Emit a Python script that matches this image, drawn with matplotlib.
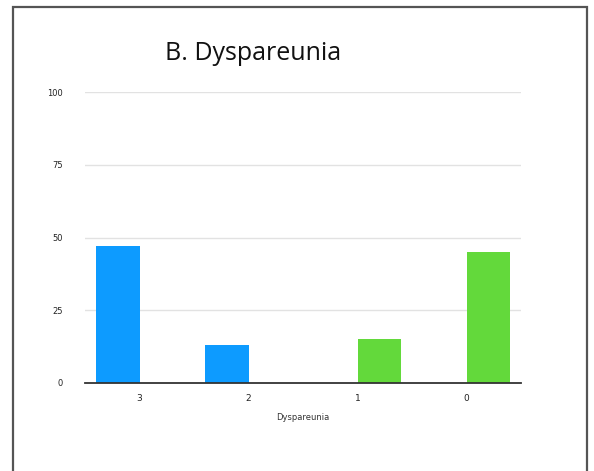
import numpy as np
import matplotlib.pyplot as plt
from matplotlib.patches import Rectangle

# Data
categories = ["3", "2", "1", "0"]
blue_vals = [47, 13, 0, 0]
green_vals = [0, 0, 15, 45]
yticks = [0, 25, 50, 75, 100]

fig = plt.figure(figsize=(5.94, 4.71), dpi=100)
W, H = 594, 471

# outer frame (open at the bottom)
fig.patches.append(Rectangle((13 / W, -0.05), 574 / W, (H - 7) / H + 0.05,
                             transform=fig.transFigure, fill=False,
                             edgecolor="#555555", linewidth=1.6))

ax = fig.add_axes([85 / W, 1 - 383 / H, 436 / W, 291 / H])
x = np.arange(len(categories))
ax.bar(x - 0.2, blue_vals, width=0.4, color="#0d9bff", zorder=3)
ax.bar(x + 0.2, green_vals, width=0.4, color="#63d93b", zorder=3)

ax.set_xlim(-0.5, 3.5)
ax.set_ylim(0, 100)
ax.set_yticks(yticks)
ax.set_yticklabels([str(v) for v in yticks], fontsize=6, color="#222222")
ax.set_xticks(x)
ax.set_xticklabels(categories, fontsize=6.5, color="#222222")
ax.tick_params(length=0)
ax.tick_params(axis="y", pad=16)
ax.tick_params(axis="x", pad=8)
ax.grid(axis="y", color="#e2e2e2", linewidth=1, zorder=0)
for s in ["top", "right", "left"]:
    ax.spines[s].set_visible(False)
ax.spines["bottom"].set_color("#333333")
ax.spines["bottom"].set_linewidth(1.3)
ax.spines["bottom"].set_zorder(4)
ax.set_xlabel("Dyspareunia", fontsize=6, color="#333333", labelpad=7)

fig.text(253 / W, 1 - 53 / H, "B. Dyspareunia", ha="center", va="center",
         fontsize=18, family="Open Sans", color="#111111")

fig.savefig("out.png", dpi=100)
